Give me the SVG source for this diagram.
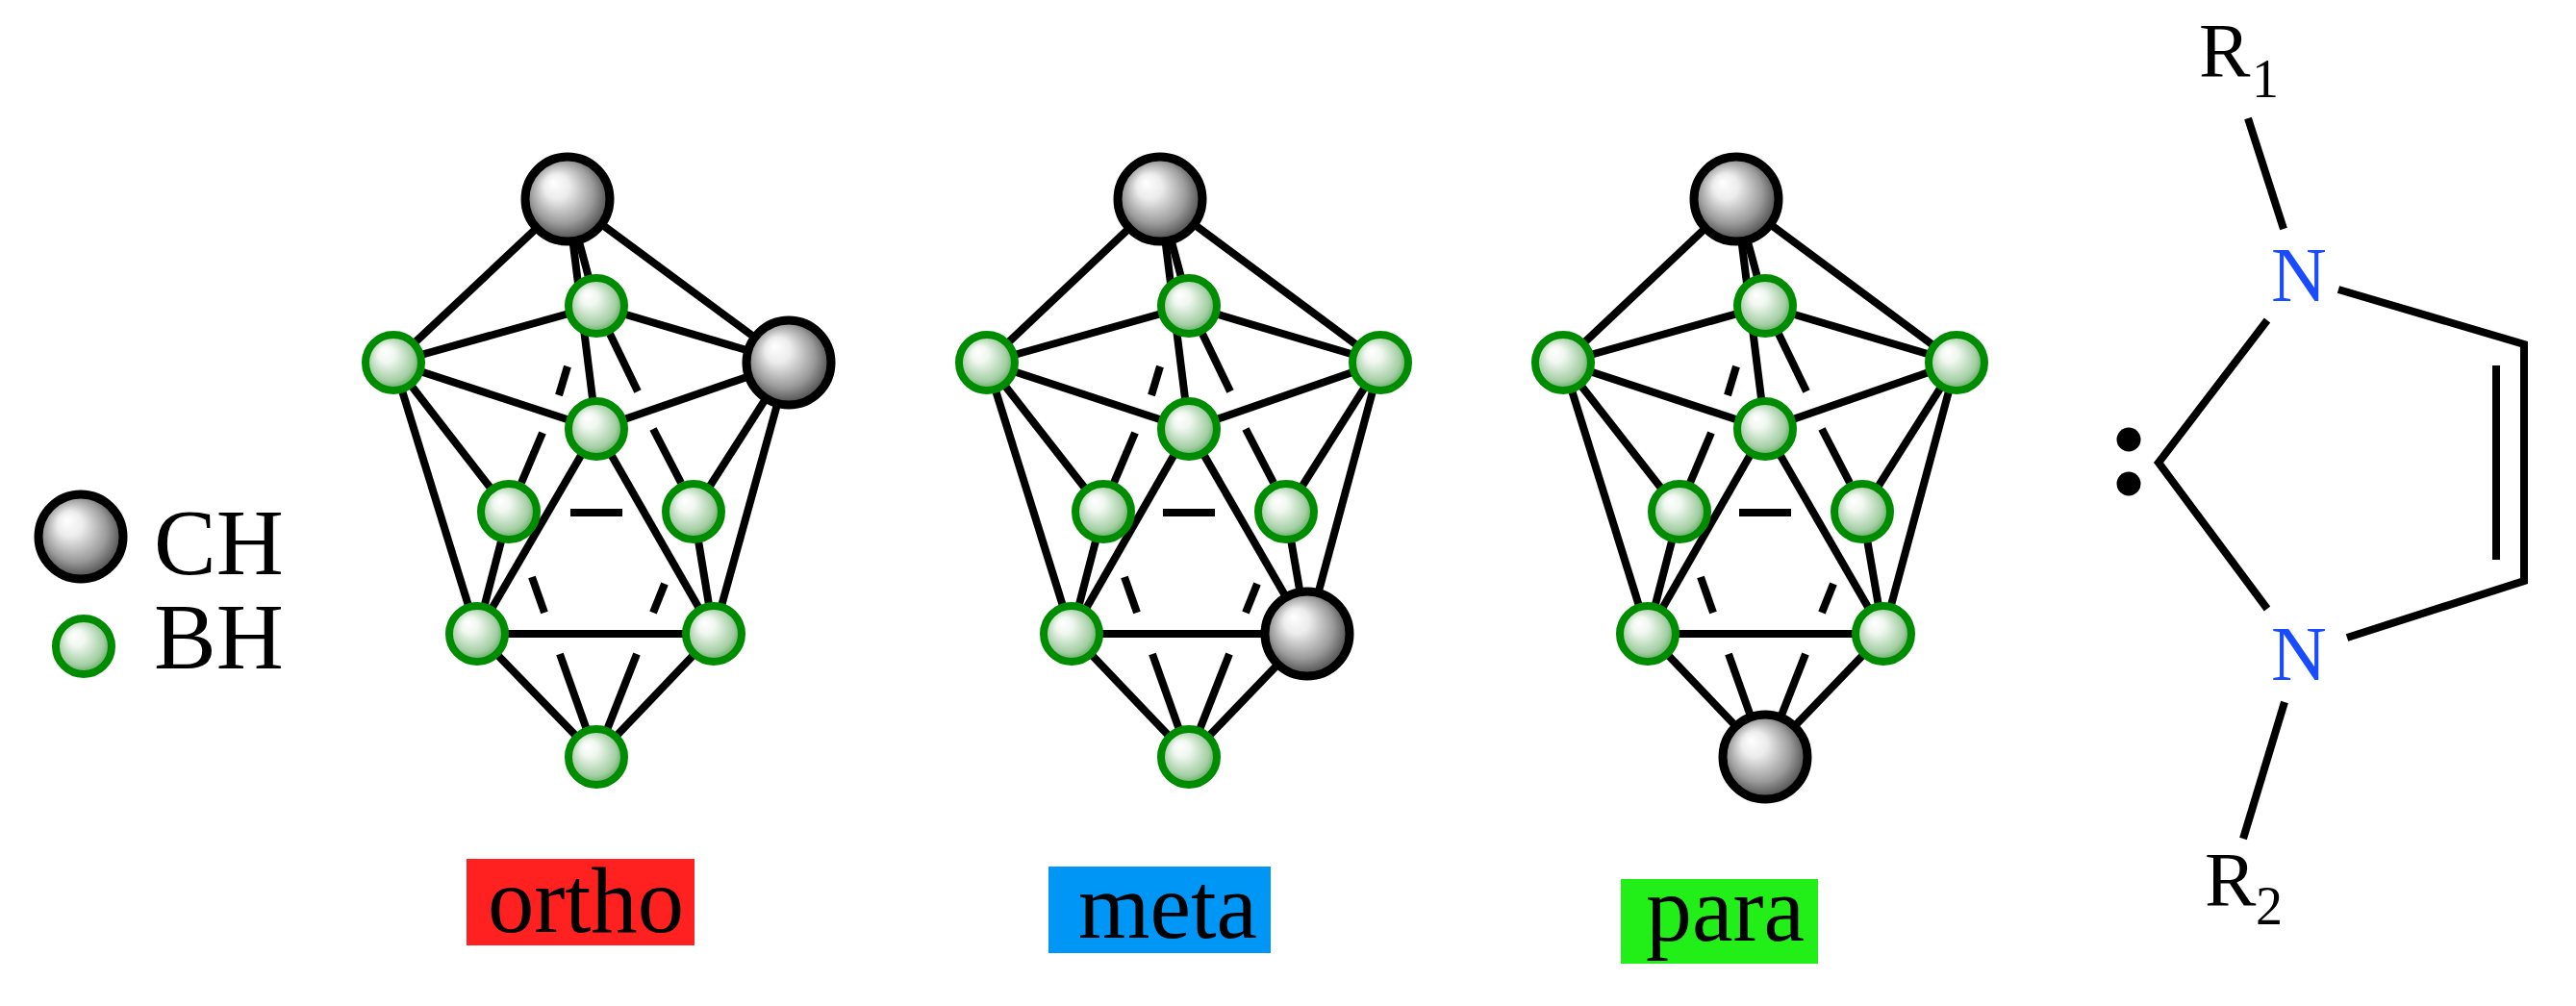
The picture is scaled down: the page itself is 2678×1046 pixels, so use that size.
<svg xmlns="http://www.w3.org/2000/svg" width="2678" height="1046" viewBox="0 0 2678 1046">
<defs>
<radialGradient id="gc" cx="0.5" cy="0.5" r="0.6" fx="0.33" fy="0.3"><stop offset="0" stop-color="#ffffff"/><stop offset="0.25" stop-color="#ececec"/><stop offset="0.62" stop-color="#9a9a9a"/><stop offset="1" stop-color="#1e1e1e"/></radialGradient>
<radialGradient id="gb" cx="0.5" cy="0.5" r="0.6" fx="0.33" fy="0.3"><stop offset="0" stop-color="#ffffff"/><stop offset="0.25" stop-color="#f0f7f0"/><stop offset="0.68" stop-color="#a3cea3"/><stop offset="1" stop-color="#218c21"/></radialGradient>
</defs>
<style>
.e{stroke:#000;stroke-width:8;fill:none}
.ch{fill:url(#gc);stroke:#000;stroke-width:9}
.bh{fill:url(#gb);stroke:#008c00;stroke-width:8}
.t{font-family:"Liberation Serif","Times New Roman",serif;font-size:97px;fill:#000}
.r{font-family:"Liberation Serif","Times New Roman",serif;font-size:80px;fill:#000}
.s{font-family:"Liberation Serif","Times New Roman",serif;font-size:56px;fill:#000}
.n{font-family:"Liberation Serif","Times New Roman",serif;font-size:80px;fill:#1a4cff}
</style>
<rect width="2678" height="1046" fill="#ffffff"/>
<g id="connectors">
<g id="edges-ortho">
<line class="e" x1="590" y1="207" x2="409" y2="377"/><line class="e" x1="590" y1="207" x2="820" y2="377"/>
<line class="e" x1="409" y1="377" x2="620" y2="318"/><line class="e" x1="620" y1="318" x2="820" y2="377"/>
<line class="e" x1="409" y1="377" x2="620" y2="446"/><line class="e" x1="620" y1="446" x2="820" y2="377"/>
<line class="e" x1="590" y1="207" x2="620" y2="318"/><line class="e" x1="590" y1="207" x2="620" y2="446"/>
<line class="e" x1="409" y1="377" x2="529" y2="532"/><line class="e" x1="409" y1="377" x2="496" y2="659"/>
<line class="e" x1="820" y1="377" x2="721" y2="532"/><line class="e" x1="820" y1="377" x2="742" y2="659"/>
<line class="e" x1="529" y1="532" x2="496" y2="659"/><line class="e" x1="721" y1="532" x2="742" y2="659"/>
<line class="e" x1="620" y1="446" x2="496" y2="659"/><line class="e" x1="620" y1="446" x2="742" y2="659"/>
<line class="e" x1="496" y1="659" x2="742" y2="659"/><line class="e" x1="496" y1="659" x2="620" y2="787"/><line class="e" x1="742" y1="659" x2="620" y2="787"/>
<line class="e" x1="620" y1="318" x2="663" y2="407"/><line class="e" x1="679" y1="446" x2="708" y2="502"/>
<line class="e" x1="590" y1="381" x2="581" y2="411"/><line class="e" x1="564" y1="450" x2="542" y2="502"/>
<line class="e" x1="593" y1="533" x2="647" y2="533"/>
<line class="e" x1="553" y1="600" x2="566" y2="637"/><line class="e" x1="582" y1="680" x2="620" y2="787"/>
<line class="e" x1="691" y1="607" x2="679" y2="637"/><line class="e" x1="662" y1="680" x2="620" y2="787"/>
</g>
<g id="edges-meta">
<line class="e" x1="1206" y1="207" x2="1026" y2="377"/><line class="e" x1="1206" y1="207" x2="1435" y2="377"/>
<line class="e" x1="1026" y1="377" x2="1236" y2="318"/><line class="e" x1="1236" y1="318" x2="1435" y2="377"/>
<line class="e" x1="1026" y1="377" x2="1236" y2="446"/><line class="e" x1="1236" y1="446" x2="1435" y2="377"/>
<line class="e" x1="1206" y1="207" x2="1236" y2="318"/><line class="e" x1="1206" y1="207" x2="1236" y2="446"/>
<line class="e" x1="1026" y1="377" x2="1147" y2="532"/><line class="e" x1="1026" y1="377" x2="1114" y2="659"/>
<line class="e" x1="1435" y1="377" x2="1337" y2="532"/><line class="e" x1="1435" y1="377" x2="1359" y2="659"/>
<line class="e" x1="1147" y1="532" x2="1114" y2="659"/><line class="e" x1="1337" y1="532" x2="1359" y2="659"/>
<line class="e" x1="1236" y1="446" x2="1114" y2="659"/><line class="e" x1="1236" y1="446" x2="1359" y2="659"/>
<line class="e" x1="1114" y1="659" x2="1359" y2="659"/><line class="e" x1="1114" y1="659" x2="1236" y2="787"/><line class="e" x1="1359" y1="659" x2="1236" y2="787"/>
<line class="e" x1="1236" y1="318" x2="1279" y2="407"/><line class="e" x1="1295" y1="446" x2="1324" y2="502"/>
<line class="e" x1="1206" y1="381" x2="1197" y2="411"/><line class="e" x1="1180" y1="450" x2="1158" y2="502"/>
<line class="e" x1="1209" y1="533" x2="1263" y2="533"/>
<line class="e" x1="1169" y1="600" x2="1182" y2="637"/><line class="e" x1="1198" y1="680" x2="1236" y2="787"/>
<line class="e" x1="1307" y1="607" x2="1295" y2="637"/><line class="e" x1="1278" y1="680" x2="1236" y2="787"/>
</g>
<g id="edges-para">
<line class="e" x1="1805" y1="207" x2="1625" y2="377"/><line class="e" x1="1805" y1="207" x2="2034" y2="377"/>
<line class="e" x1="1625" y1="377" x2="1835" y2="318"/><line class="e" x1="1835" y1="318" x2="2034" y2="377"/>
<line class="e" x1="1625" y1="377" x2="1835" y2="446"/><line class="e" x1="1835" y1="446" x2="2034" y2="377"/>
<line class="e" x1="1805" y1="207" x2="1835" y2="318"/><line class="e" x1="1805" y1="207" x2="1835" y2="446"/>
<line class="e" x1="1625" y1="377" x2="1746" y2="532"/><line class="e" x1="1625" y1="377" x2="1713" y2="659"/>
<line class="e" x1="2034" y1="377" x2="1936" y2="532"/><line class="e" x1="2034" y1="377" x2="1958" y2="659"/>
<line class="e" x1="1746" y1="532" x2="1713" y2="659"/><line class="e" x1="1936" y1="532" x2="1958" y2="659"/>
<line class="e" x1="1835" y1="446" x2="1713" y2="659"/><line class="e" x1="1835" y1="446" x2="1958" y2="659"/>
<line class="e" x1="1713" y1="659" x2="1958" y2="659"/><line class="e" x1="1713" y1="659" x2="1835" y2="787"/><line class="e" x1="1958" y1="659" x2="1835" y2="787"/>
<line class="e" x1="1835" y1="318" x2="1878" y2="407"/><line class="e" x1="1894" y1="446" x2="1923" y2="502"/>
<line class="e" x1="1805" y1="381" x2="1796" y2="411"/><line class="e" x1="1779" y1="450" x2="1757" y2="502"/>
<line class="e" x1="1808" y1="533" x2="1862" y2="533"/>
<line class="e" x1="1768" y1="600" x2="1781" y2="637"/><line class="e" x1="1797" y1="680" x2="1835" y2="787"/>
<line class="e" x1="1906" y1="607" x2="1894" y2="637"/><line class="e" x1="1877" y1="680" x2="1835" y2="787"/>
</g>
<g id="edges-imidazole">
<line class="e" x1="2337" y1="123" x2="2374" y2="238"/>
<polyline class="e" points="2431,301 2624,358 2624,604 2440,663"/>
<line class="e" x1="2595" y1="380" x2="2595" y2="582"/>
<polyline class="e" points="2357,333 2244,481 2357,633"/>
<line class="e" x1="2375" y1="730" x2="2332" y2="872"/>
</g>
</g>
<g id="legend-ch"><circle class="ch" cx="84" cy="558" r="44"/><text class="t" x="160" y="597">CH</text></g>
<g id="legend-bh"><circle class="bh" cx="87" cy="672" r="29"/><text class="t" x="160" y="695">BH</text></g>
<g id="ortho-t"><circle class="ch" cx="590" cy="207" r="44"/></g>
<g id="ortho-r"><circle class="ch" cx="820" cy="377" r="44"/></g>
<g id="ortho-l"><circle class="bh" cx="409" cy="377" r="29"/></g>
<g id="ortho-i"><circle class="bh" cx="620" cy="318" r="29"/></g>
<g id="ortho-c"><circle class="bh" cx="620" cy="446" r="29"/></g>
<g id="ortho-lm"><circle class="bh" cx="529" cy="532" r="29"/></g>
<g id="ortho-rm"><circle class="bh" cx="721" cy="532" r="29"/></g>
<g id="ortho-bl"><circle class="bh" cx="496" cy="659" r="29"/></g>
<g id="ortho-br"><circle class="bh" cx="742" cy="659" r="29"/></g>
<g id="ortho-b"><circle class="bh" cx="620" cy="787" r="29"/></g>
<g id="meta-t"><circle class="ch" cx="1206" cy="207" r="44"/></g>
<g id="meta-r"><circle class="bh" cx="1435" cy="377" r="29"/></g>
<g id="meta-l"><circle class="bh" cx="1026" cy="377" r="29"/></g>
<g id="meta-i"><circle class="bh" cx="1236" cy="318" r="29"/></g>
<g id="meta-c"><circle class="bh" cx="1236" cy="446" r="29"/></g>
<g id="meta-lm"><circle class="bh" cx="1147" cy="532" r="29"/></g>
<g id="meta-rm"><circle class="bh" cx="1337" cy="532" r="29"/></g>
<g id="meta-bl"><circle class="bh" cx="1114" cy="659" r="29"/></g>
<g id="meta-br"><circle class="ch" cx="1359" cy="659" r="44"/></g>
<g id="meta-b"><circle class="bh" cx="1236" cy="787" r="29"/></g>
<g id="para-t"><circle class="ch" cx="1805" cy="207" r="44"/></g>
<g id="para-r"><circle class="bh" cx="2034" cy="377" r="29"/></g>
<g id="para-l"><circle class="bh" cx="1625" cy="377" r="29"/></g>
<g id="para-i"><circle class="bh" cx="1835" cy="318" r="29"/></g>
<g id="para-c"><circle class="bh" cx="1835" cy="446" r="29"/></g>
<g id="para-lm"><circle class="bh" cx="1746" cy="532" r="29"/></g>
<g id="para-rm"><circle class="bh" cx="1936" cy="532" r="29"/></g>
<g id="para-bl"><circle class="bh" cx="1713" cy="659" r="29"/></g>
<g id="para-br"><circle class="bh" cx="1958" cy="659" r="29"/></g>
<g id="para-b"><circle class="ch" cx="1835" cy="787" r="44"/></g>
<g id="label-ortho"><rect x="485" y="893" width="237" height="90" fill="#ff2020"/><text class="t" x="507" y="969" textLength="204" lengthAdjust="spacingAndGlyphs">ortho</text></g>
<g id="label-meta"><rect x="1090" y="901" width="231" height="90" fill="#0096f5"/><text class="t" x="1121" y="975" textLength="186" lengthAdjust="spacingAndGlyphs">meta</text></g>
<g id="label-para"><rect x="1685" y="914" width="205" height="88" fill="#22ee18"/><text class="t" x="1711" y="978" textLength="165" lengthAdjust="spacingAndGlyphs">para</text></g>
<g id="r1"><text class="r" x="2286" y="80">R</text><text class="s" x="2341" y="101">1</text></g>
<g id="r2"><text class="r" x="2292" y="942">R</text><text class="s" x="2345" y="961">2</text></g>
<g id="n1"><text class="n" x="2361" y="313">N</text></g>
<g id="n2"><text class="n" x="2361" y="707">N</text></g>
<g id="lone-pair"><circle cx="2213" cy="457" r="12.5" fill="#000"/><circle cx="2213" cy="503" r="12.5" fill="#000"/></g>
</svg>
